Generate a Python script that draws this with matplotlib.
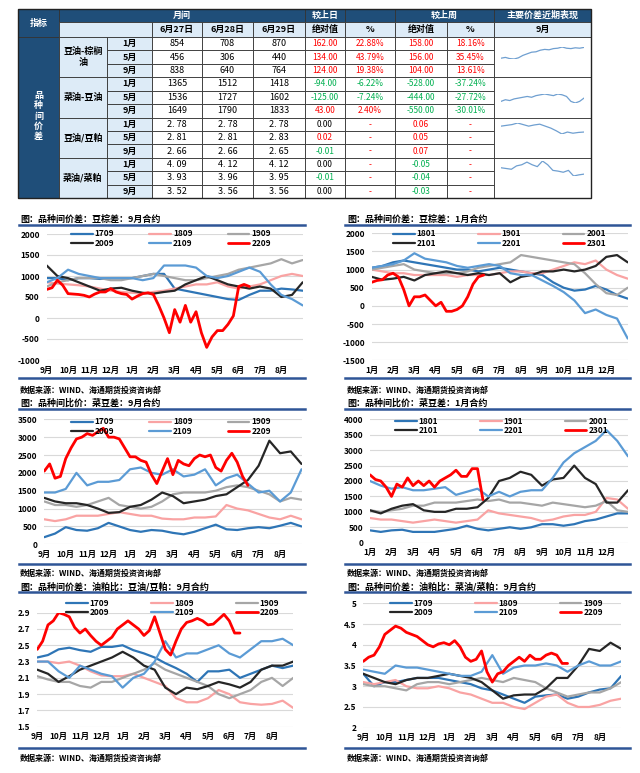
import numpy as np
import matplotlib
matplotlib.use('Agg')
import matplotlib.pyplot as plt
from matplotlib.patches import Rectangle
from matplotlib.ticker import FuncFormatter

plt.rcParams['font.family'] = ['Noto Sans CJK SC', 'DejaVu Sans']

# ---------------- table data ----------------
head_dates = ["6月27日", "6月28日", "6月29日"]
groups = ["豆油-棕榈\n油", "菜油-豆油", "豆油/豆粕", "菜油/菜粕"]
row_months = ["1月", "5月", "9月"] * 4
val_27 = ["854", "456", "838", "1365", "1536", "1649", "2. 78", "2. 81", "2. 66", "4. 09", "3. 93", "3. 52"]
val_28 = ["708", "306", "640", "1512", "1727", "1790", "2. 78", "2. 81", "2. 66", "4. 12", "3. 96", "3. 56"]
val_29 = ["870", "440", "764", "1418", "1602", "1833", "2. 78", "2. 83", "2. 65", "4. 12", "3. 95", "3. 56"]
day_abs = [162.00, 134.00, 124.00, -94.00, -125.00, 43.00, 0.00, 0.02, -0.01, 0.00, -0.01, 0.00]
day_pct = [22.88, 43.79, 19.38, -6.22, -7.24, 2.40, None, None, None, None, None, None]
week_abs = [158.00, 156.00, 104.00, -528.00, -444.00, -550.00, 0.06, 0.05, 0.07, -0.05, -0.04, -0.03]
week_pct = [18.16, 35.45, 13.61, -37.24, -27.72, -30.01, None, None, None, None, None, None]

spark1 = [450, 470, 440, 430, 460, 520, 560, 600, 610, 650, 670, 660, 690, 700, 730, 700, 690, 710, 700, 720]
spark2 = [1600, 1620, 1610, 1630, 1640, 1650, 1660, 1650, 1670, 1680, 1690, 1680, 1670, 1690, 1680, 1660, 1600, 1580, 1600, 1640]
spark3 = [2.80, 2.81, 2.82, 2.84, 2.82, 2.80, 2.815, 2.825, 2.80, 2.775, 2.74, 2.70, 2.725, 2.71, 2.72, 2.725]
spark4 = [3.42, 3.40, 3.38, 3.47, 3.50, 3.57, 3.50, 3.45, 3.60, 3.50, 3.35, 3.33, 3.30, 3.35, 3.20, 3.23, 3.25]

# ---------------- chart data ----------------
months_sep = ['9月', '10月', '11月', '12月', '1月', '2月', '3月', '4月', '5月', '6月', '7月', '8月']
months_jan = ['1月', '2月', '3月', '4月', '5月', '6月', '7月', '8月', '9月', '10月', '11月', '12月']
names_09 = ['1709', '1809', '1909', '2009', '2109', '2209']
names_01 = ['1801', '1901', '2001', '2101', '2201', '2301']

c1_1709 = [950, 950, 900, 950, 950, 930, 950, 950, 950, 1000, 1050, 1050, 700, 650, 600, 550, 500, 450, 430, 550, 650, 650, 700, 680, 650]
c1_1809 = [850, 820, 800, 780, 750, 700, 650, 620, 600, 580, 620, 650, 700, 750, 800, 800, 850, 750, 700, 750, 800, 900, 1000, 1050, 1000]
c1_1909 = [750, 850, 900, 950, 950, 950, 900, 900, 950, 1000, 1050, 1000, 950, 900, 900, 950, 1000, 1050, 1150, 1200, 1250, 1300, 1400, 1300, 1380]
c1_2009 = [1250, 1000, 950, 850, 750, 650, 700, 720, 650, 600, 580, 620, 650, 800, 900, 1000, 900, 800, 750, 700, 750, 700, 500, 550, 850]
c1_2109 = [850, 950, 1150, 1050, 1000, 950, 950, 950, 950, 900, 950, 1250, 1250, 1250, 1200, 1000, 950, 1000, 1100, 1200, 1100, 800, 550, 450, 300]
c1_2209 = [680, 720, 900, 780, 580, 570, 560, 540, 500, 570, 620, 620, 700, 620, 580, 560, 450, 520, 580, 600,
           560, 300, 0, -350, 200, -100, 300, -100, 150, -350, -700, -450, -300, -300, -150, 50, 750, 800, 750]

c2_1801 = [1050, 1100, 1200, 1250, 1200, 1150, 1100, 1050, 1000, 1000, 950, 1000, 1050, 1000, 950, 900, 850, 650, 500, 420, 450, 550, 450, 300, 200]
c2_1901 = [1000, 950, 900, 900, 850, 850, 850, 850, 800, 850, 850, 850, 900, 950, 950, 900, 900, 1000, 1100, 1200, 1150, 1250, 1000, 850, 750]
c2_2001 = [1000, 1050, 1100, 1150, 1000, 950, 900, 900, 900, 950, 1050, 1100, 1150, 1200, 1400, 1350, 1300, 1250, 1200, 1150, 900, 600, 350, 300, 500]
c2_2101 = [800, 720, 750, 800, 700, 850, 900, 950, 900, 850, 900, 850, 900, 650, 800, 850, 950, 950, 1000, 950, 1000, 1100, 1350, 1400, 1200]
c2_2201 = [1050, 1100, 1150, 1250, 1450, 1300, 1250, 1200, 1100, 1050, 1100, 1150, 1100, 900, 850, 850, 700, 550, 380, 150, -200, -100, -250, -350, -900]
c2_2301 = [650, 700, 720, 850, 900, 800, 450, 0, 250, 250, 300, 150, 0, 100, -150, -150, -100, 0, 250, 600, 800, 850]

c3_1709 = [200, 300, 480, 400, 380, 450, 600, 500, 400, 350, 400, 380, 320, 280, 350, 450, 550, 420, 400, 450, 480, 450, 520, 600, 500]
c3_1809 = [700, 650, 700, 800, 800, 800, 850, 900, 850, 800, 800, 720, 700, 700, 750, 750, 780, 1100, 1000, 950, 850, 750, 700, 800, 700]
c3_1909 = [1200, 1100, 1100, 1050, 1100, 1200, 1300, 1100, 1050, 1000, 1050, 1200, 1400, 1450, 1450, 1450, 1500, 1600, 1650, 1600, 1500, 1400, 1200, 1300, 1250]
c3_2009 = [1300, 1200, 1150, 1150, 1100, 1000, 880, 900, 1050, 1100, 1250, 1450, 1350, 1150, 1200, 1250, 1350, 1400, 1600, 1800, 2200, 2900, 2550, 2600, 2250]
c3_2109 = [1450, 1450, 1550, 2000, 1650, 1750, 1750, 1800, 2100, 2150, 2000, 1950, 2100, 1900, 1950, 2100, 1650, 1850, 1950, 1700, 1450, 1500, 1200, 1450, 2100]
c3_2209 = [2050, 2250, 1850, 1900, 2400, 2700, 2950, 3000, 3100, 3050, 3150, 3250, 3000, 3000, 2950, 2700, 2450, 2450, 2350, 2300,
           1950, 1700, 2050, 2400, 1950, 2350, 2250, 2200, 2400, 2500, 2450, 2500, 2150, 2050, 2350, 2550, 2300, 1900, 1650]

c4_1801 = [400, 350, 400, 420, 350, 350, 350, 400, 450, 550, 450, 400, 450, 500, 450, 500, 600, 600, 550, 600, 700, 750, 850, 950, 950]
c4_1901 = [800, 750, 750, 700, 650, 700, 750, 700, 650, 700, 750, 1050, 950, 900, 850, 800, 700, 750, 850, 900, 900, 1000, 1450, 1400, 1100]
c4_2001 = [1050, 1000, 1050, 1100, 1200, 1200, 1300, 1300, 1300, 1350, 1400, 1350, 1400, 1300, 1300, 1250, 1200, 1300, 1250, 1200, 1150, 1200, 1350, 1050, 1000]
c4_2101 = [1050, 950, 1100, 1200, 1250, 1050, 1000, 1000, 1100, 1100, 1150, 1450, 2000, 2100, 2300, 2200, 1850, 2050, 2100, 2500, 2100, 1900, 1300, 1300, 1700]
c4_2201 = [2000, 1850, 1750, 1800, 1700, 1700, 1750, 1800, 1550, 1650, 1750, 1500, 1650, 1500, 1650, 1700, 1700, 2100, 2600, 2900, 3100, 3300, 3650, 3300, 2800]
c4_2301 = [2200, 2050, 2000, 1800, 1500, 1900, 1800, 2100, 1850, 2000, 1850, 2000, 1800, 2000, 2100, 2200, 2350, 2150, 2150, 2400, 2400, 1400]

c5_1709 = [2.35, 2.38, 2.45, 2.47, 2.44, 2.42, 2.48, 2.48, 2.5, 2.44, 2.4, 2.35, 2.28, 2.22, 2.15, 2.05, 2.18, 2.18, 2.2, 2.1, 2.15, 2.2, 2.25, 2.22, 2.25]
c5_1809 = [2.3, 2.3, 2.28, 2.3, 2.25, 2.18, 2.13, 2.12, 2.12, 2.15, 2.1, 2.05, 2.0, 1.85, 1.8, 1.8, 1.85, 1.95, 1.9, 1.8, 1.78, 1.77, 1.78, 1.82, 1.73]
c5_1909 = [2.12, 2.08, 2.05, 2.05, 2.0, 1.98, 2.05, 2.05, 2.1, 2.15, 2.2, 2.28, 2.2, 2.15, 2.1, 2.05, 2.0, 1.9, 1.85, 1.9, 1.95, 2.05, 2.1, 2.0, 2.1]
c5_2009 = [2.2, 2.15, 2.05, 2.12, 2.2, 2.25, 2.3, 2.35, 2.42, 2.35, 2.25, 2.2, 1.98, 1.9, 1.98, 1.96, 2.0, 2.05, 2.02, 1.98, 2.05, 2.2, 2.25, 2.25, 2.3]
c5_2109 = [2.3, 2.3, 2.18, 2.1, 2.25, 2.2, 2.15, 2.12, 1.98, 2.1, 2.15, 2.3, 2.55, 2.35, 2.4, 2.4, 2.45, 2.5, 2.4, 2.35, 2.45, 2.55, 2.55, 2.58, 2.5]
c5_2209 = [2.45, 2.55, 2.75, 2.8, 2.9, 2.88, 2.85, 2.72, 2.65, 2.7, 2.62, 2.55, 2.5, 2.55, 2.6, 2.7, 2.75, 2.8, 2.75, 2.7,
           2.62, 2.68, 2.85, 2.65, 2.45, 2.38, 2.55, 2.7, 2.78, 2.8, 2.83, 2.8, 2.75, 2.76, 2.82, 2.88, 2.8, 2.65, 2.65]

c6_1709 = [3.3, 3.0, 3.1, 3.1, 3.15, 3.2, 3.2, 3.2, 3.15, 3.1, 3.05, 2.95, 2.9, 2.8, 2.7, 2.6, 2.75, 2.78, 2.8, 2.7, 2.75, 2.85, 2.92, 2.95, 3.25]
c6_1809 = [3.1, 3.05, 3.1, 3.15, 3.0, 2.95, 2.95, 3.0, 2.95, 2.85, 2.8, 2.7, 2.6, 2.6, 2.5, 2.45, 2.6, 2.75, 2.8, 2.6, 2.5, 2.5, 2.55, 2.65, 2.7]
c6_1909 = [3.05, 3.0, 3.0, 2.95, 2.9, 3.05, 3.1, 3.1, 3.05, 3.1, 3.15, 3.2, 3.15, 3.1, 3.2, 3.15, 3.1, 2.95, 2.85, 2.75, 2.8, 2.85, 2.85, 2.95, 3.1]
c6_2009 = [3.3, 3.2, 3.1, 3.05, 3.15, 3.2, 3.2, 3.25, 3.3, 3.25, 3.2, 3.1, 2.9, 2.7, 2.78, 2.8, 2.8, 2.95, 3.2, 3.2, 3.5, 3.9, 3.85, 4.05, 3.9]
c6_2109 = [3.4, 3.35, 3.3, 3.5, 3.45, 3.45, 3.4, 3.35, 3.3, 3.25, 3.25, 3.35, 3.75, 3.3, 3.45, 3.5, 3.5, 3.55, 3.5, 3.35, 3.5, 3.6, 3.5, 3.5, 3.6]
c6_2209 = [3.6, 3.7, 3.75, 3.95, 4.25, 4.35, 4.45, 4.4, 4.3, 4.25, 4.2, 4.1, 4.0, 3.95, 4.02, 4.05, 4.0, 4.1, 3.95, 3.7,
           3.6, 3.65, 3.85, 3.35, 3.1, 3.3, 3.35, 3.5, 3.6, 3.7, 3.6, 3.75, 3.65, 3.65, 3.75, 3.8, 3.75, 3.55, 3.55]

# ---------------- styling ----------------
W, H = 640, 773
DARK = '#1F4E79'
LIGHT = '#DDEBF7'
EDGE = '#333333'
RED_T = '#FF0000'
GREEN_T = '#00B050'
SERIES_COLORS = ['#2E75B6', '#F9A3A3', '#A6A6A6', '#262626', '#5B9BD5', '#FF0000']
SEP_BLUE = '#2F5597'

fig = plt.figure(figsize=(W / 100, H / 100), dpi=100)
bg = fig.add_axes([0, 0, 1, 1])
bg.set_xlim(0, W)
bg.set_ylim(H, 0)
bg.axis('off')


def px_axes(x0, x1, y0, y1):
    return fig.add_axes([x0 / W, 1 - y1 / H, (x1 - x0) / W, (y1 - y0) / H])


def cell(x0, x1, y0, y1, fc, text='', color='black', bold=False, size=6.5, lw=0.6, **kw):
    bg.add_patch(Rectangle((x0, y0), x1 - x0, y1 - y0, facecolor=fc, edgecolor=EDGE, lw=lw))
    if text:
        bg.text((x0 + x1) / 2, (y0 + y1) / 2, text, ha='center', va='center', color=color,
                fontsize=size, fontweight='bold' if bold else 'normal', **kw)


def sign_color(v):
    if v is None:
        return RED_T
    if v > 0:
        return RED_T
    if v < 0:
        return GREEN_T
    return 'black'


# ---------------- table ----------------
tx = [18, 59, 107, 152, 202, 253, 305, 345, 395, 447, 494, 591]
y_h0, y_h1, y_b0, y_b1 = 9, 22, 37, 198
rh = (y_b1 - y_b0) / 12

cell(18, 59, y_h0, y_b0, DARK, '指标', 'white', True)
cell(59, 305, y_h0, y_h1, DARK, '月间', 'white', True)
cell(305, 345, y_h0, y_h1, DARK, '较上日', 'white', True)
cell(345, 395, y_h0, y_h1, DARK)
cell(395, 494, y_h0, y_h1, DARK, '较上周', 'white', True)
cell(494, 591, y_h0, y_h1, DARK, '主要价差近期表现', 'white', True)
cell(59, 152, y_h1, y_b0, LIGHT)
for i, d in enumerate(head_dates):
    cell(tx[3 + i], tx[4 + i], y_h1, y_b0, LIGHT, d, 'black', True)
for i, t in enumerate(['绝对值', '%', '绝对值', '%']):
    cell(tx[6 + i], tx[7 + i], y_h1, y_b0, LIGHT, t, 'black', True)
cell(494, 591, y_h1, y_b0, LIGHT, '9月', 'black', True)

cell(18, 59, y_b0, y_b1, DARK)
bg.text(38.5, 116, '\n'.join('品种间价差'), ha='center', va='center', color='white',
        fontsize=6.5, fontweight='bold', linespacing=1.2)

for g, gname in enumerate(groups):
    gy0 = y_b0 + 3 * g * rh
    cell(59, 107, gy0, gy0 + 3 * rh, LIGHT, gname, 'black', True, linespacing=1.3)
    cell(494, 591, gy0, gy0 + 3 * rh, 'white')

for r in range(12):
    ry0 = y_b0 + r * rh
    ry1 = ry0 + rh
    cell(107, 152, ry0, ry1, LIGHT, row_months[r], 'black', True)
    cell(152, 202, ry0, ry1, 'white', val_27[r])
    cell(202, 253, ry0, ry1, 'white', val_28[r])
    cell(253, 305, ry0, ry1, 'white', val_29[r])
    cell(305, 345, ry0, ry1, 'white', f"{day_abs[r]:.2f}", sign_color(day_abs[r]), size=6)
    dp = day_pct[r]
    cell(345, 395, ry0, ry1, 'white', '-' if dp is None else f"{dp:.2f}%", sign_color(dp), size=6)
    cell(395, 447, ry0, ry1, 'white', f"{week_abs[r]:.2f}", sign_color(week_abs[r]), size=6)
    wp = week_pct[r]
    cell(447, 494, ry0, ry1, 'white', '-' if wp is None else f"{wp:.2f}%", sign_color(wp), size=6)

bg.add_patch(Rectangle((18, y_h0), 591 - 18, y_b1 - y_h0, fill=False, edgecolor='#222222', lw=1.0))

spark_boxes = [(47, 59), (94, 103), (123, 134), (161, 176)]
for vals, (sy0, sy1) in zip([spark1, spark2, spark3, spark4], spark_boxes):
    sa = px_axes(501, 584, sy0, sy1)
    sa.plot(np.arange(len(vals)), vals, color='#6F9FD0', lw=0.9)
    sa.set_xlim(0, len(vals) - 1)
    sa.set_ylim(min(vals), max(vals))
    sa.axis('off')


# ---------------- charts ----------------
def fmt_int(v, p):
    return f"{int(round(v))}"


def fmt_g(v, p):
    return f"{v:g}"


def draw_chart(box, ylim, yticks, yfmt, labels, names, series, steps,
               title, tpos, sep_x, sep_top, sep_bot, src_y, leg_anchor, colsp):
    x0, x1, y0, y1 = box
    ax = px_axes(x0, x1, y0, y1)
    ax.patch.set_alpha(0)
    ax.set_xlim(0, 12)
    ax.set_ylim(*ylim)
    for s in ax.spines.values():
        s.set_visible(False)
    ax.set_yticks(yticks)
    ax.yaxis.set_major_formatter(FuncFormatter(yfmt))
    ax.set_xticks(range(12))
    ax.set_xticklabels(labels)
    ax.tick_params(axis='both', length=0, labelsize=6)
    ax.tick_params(axis='y', pad=5)
    ax.tick_params(axis='x', pad=4)
    for t in ax.get_xticklabels() + ax.get_yticklabels():
        t.set_fontweight('bold')
    ax.grid(axis='y', color='#D9D9D9', lw=0.8)
    ax.set_axisbelow(True)
    handles = []
    for vals, st, col in zip(series, steps, SERIES_COLORS):
        xv = np.arange(len(vals)) * st
        lw = 2.0 if col == '#FF0000' else 1.6
        h, = ax.plot(xv, vals, color=col, lw=lw, solid_joinstyle='round', solid_capstyle='round')
        handles.append(h)
    order = [0, 3, 1, 4, 2, 5]
    ax.legend([handles[i] for i in order], [names[i] for i in order], ncol=3,
              loc='upper left', bbox_to_anchor=leg_anchor, bbox_transform=bg.transData,
              frameon=False, prop=dict(size=6, weight='bold'), handlelength=2.6,
              handletextpad=0.25, columnspacing=colsp, labelspacing=0.05,
              borderpad=0, borderaxespad=0)
    # title, separators, source
    bg.text(tpos[0], tpos[1], title, ha='left', va='center', fontsize=6.5, fontweight='bold')
    bg.plot([sep_x[0], sep_x[1]], [sep_top, sep_top], color=SEP_BLUE, lw=1.8)
    bg.plot([sep_x[0], sep_x[1]], [sep_bot, sep_bot], color=SEP_BLUE, lw=1.8)
    bg.text(tpos[0], src_y, '数据来源：WIND、海通期货投资咨询部', ha='left', va='center',
            fontsize=5.8, fontweight='bold')
    return ax


steps_a = [0.5, 0.5, 0.5, 0.5, 0.5, 0.25]

draw_chart((46.7, 302.7, 234, 360), (-1000, 2000), np.arange(-1000, 2001, 500), fmt_int,
           months_sep, names_09, [c1_1709, c1_1809, c1_1909, c1_2009, c1_2109, c1_2209], steps_a,
           '图：品种间价差：豆棕差：9月合约', (20, 219), (19, 305), 225, 378, 390, (71, 229.5), 4.2)

draw_chart((371.7, 627.7, 233.3, 360.3), (-1500, 2000), np.arange(-1500, 2001, 500), fmt_int,
           months_jan, names_01, [c2_1801, c2_1901, c2_2001, c2_2101, c2_2201, c2_2301], steps_a,
           '图：品种间价差：豆棕差：1月合约', (347, 219), (345, 630), 225, 378, 390, (393, 229.5), 5.0)

draw_chart((44.3, 301.5, 419.3, 544.3), (0, 3500), np.arange(0, 3501, 500), fmt_int,
           months_sep, names_09, [c3_1709, c3_1809, c3_1909, c3_2009, c3_2109, c3_2209], steps_a,
           '图：品种间比价：菜豆差：9月合约', (20, 403), (19, 305), 409, 564, 573, (71, 417.5), 4.2)

draw_chart((370, 628, 419.3, 542.7), (0, 4000), np.arange(0, 4001, 500), fmt_int,
           months_jan, names_01, [c4_1801, c4_1901, c4_2001, c4_2101, c4_2201, c4_2301], steps_a,
           '图：品种间比价：菜豆差：1月合约', (347, 403), (345, 630), 409, 564, 573, (395, 416.5), 5.0)

draw_chart((37.3, 293.3, 612.7, 726.7), (1.5, 2.9), np.round(np.arange(1.5, 2.91, 0.2), 1), fmt_g,
           months_sep, names_09, [c5_1709, c5_1809, c5_1909, c5_2009, c5_2109, c5_2209], steps_a,
           '图：品种间价差：油粕比：豆油/豆粕：9月合约', (20, 587), (19, 305), 592, 748, 758, (66, 598.5), 5.0)

draw_chart((363.3, 621.3, 603.3, 727.7), (2, 5), np.arange(2, 5.01, 0.5), fmt_g,
           months_sep, names_09, [c6_1709, c6_1809, c6_1909, c6_2009, c6_2109, c6_2209], steps_a,
           '图：品种间价差：油粕比：菜油/菜粕：9月合约', (347, 587), (345, 630), 592, 748, 758, (390, 598.5), 5.0)

fig.savefig('out.png', dpi=100)
